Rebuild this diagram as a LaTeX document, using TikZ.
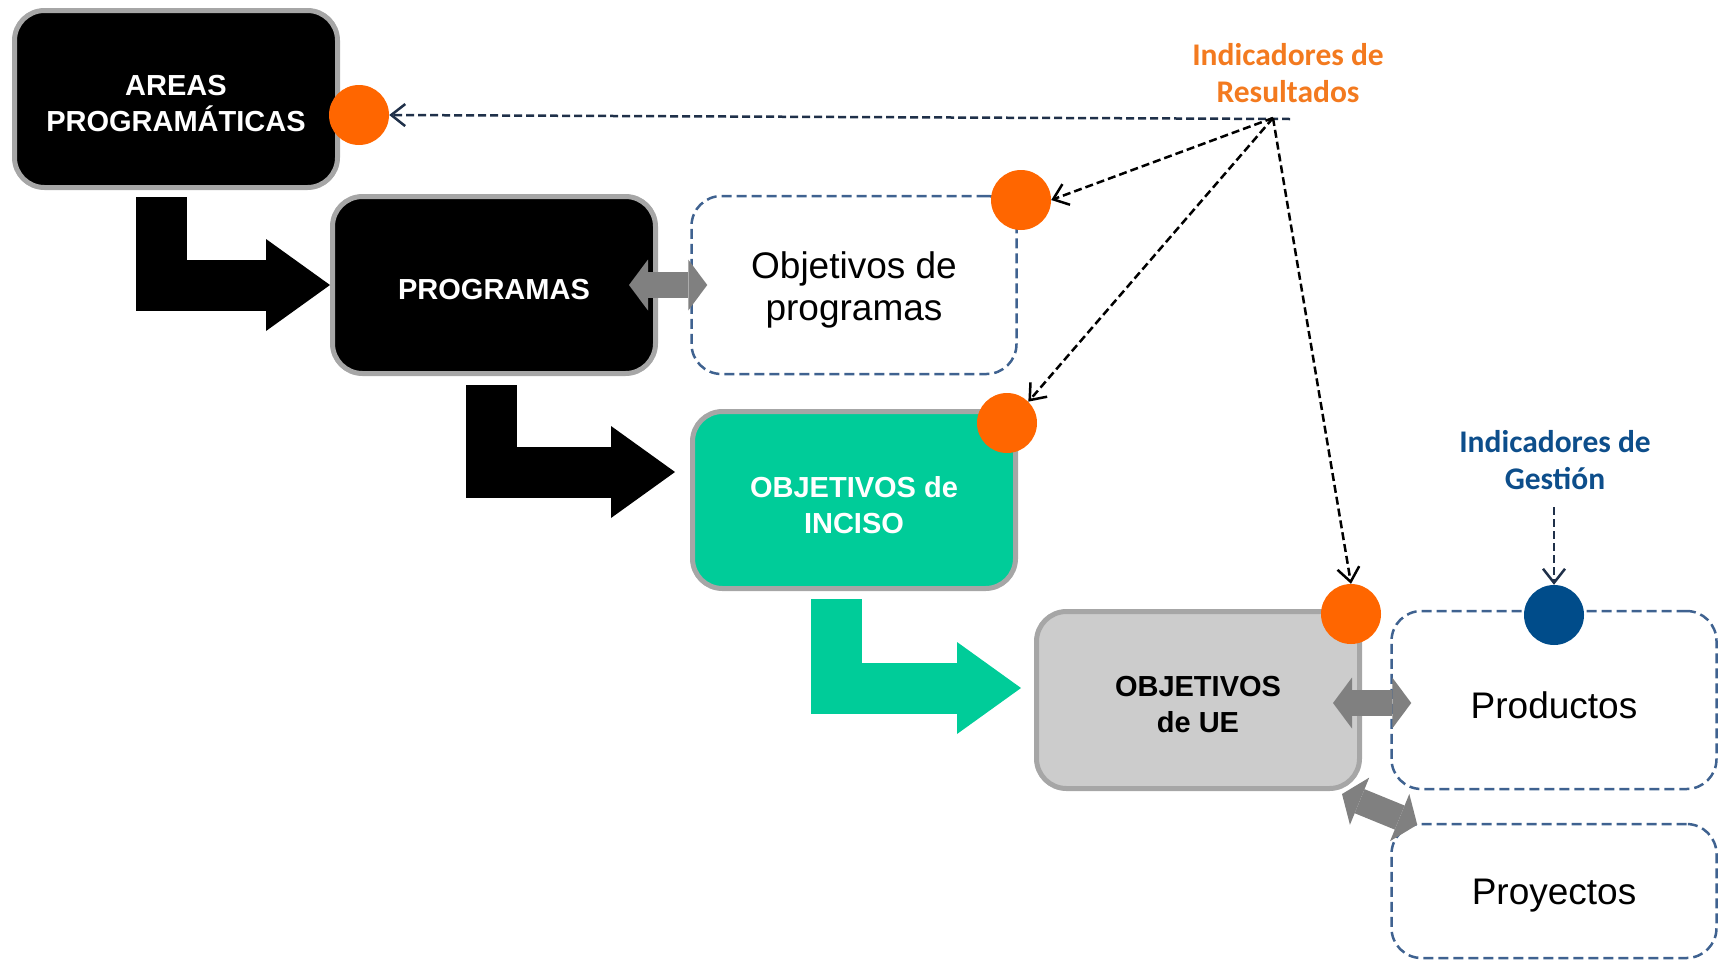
\documentclass[tikz,border=0pt]{standalone}
\usepackage{fontspec}
\setmainfont{Liberation Sans}
\newfontfamily\calibri{Carlito}
\usetikzlibrary{arrows.meta,calc}

\definecolor{naranja}{HTML}{FF6600}
\definecolor{verde}{HTML}{00CC99}
\definecolor{gris}{HTML}{A6A6A6}
\definecolor{grisclaro}{HTML}{CCCCCC}
\definecolor{grisflecha}{HTML}{808080}
\definecolor{azul}{HTML}{3F6290}
\definecolor{azulosc}{HTML}{004C8A}
\definecolor{naranjatxt}{HTML}{F37A1F}
\definecolor{azultxt}{HTML}{0D4E8B}
\definecolor{marino}{HTML}{1F3049}

\newcommand{\bajar}[1]{\raisebox{-5pt}[\height][\depth]{#1}}

\begin{document}
\begin{tikzpicture}[x=1pt,y=-1pt]
            \tikzstyle{every node}+=[inner sep=0pt]
            \tikzstyle{caja}=[rounded corners=30pt, draw=gris, line width=5pt, minimum width=323pt, minimum height=177pt, align=center, font=\bfseries\fontsize{29}{36}\selectfont]
            \tikzstyle{punteada}=[rounded corners=30pt, draw=azul, line width=2.5pt, dash pattern=on 10pt off 5pt, minimum width=325pt, minimum height=178pt, align=center, font=\fontsize{37}{42}\selectfont]
            \tikzstyle{punto}=[circle, fill=naranja, minimum size=60pt]
            \tikzstyle{flechaL}=[line width=51pt, -{Triangle[length=64pt,width=92pt,line width=0pt]}]
            \tikzstyle{doble}=[grisflecha, line width=26pt, {Triangle[length=19pt,width=51pt,line width=0pt]}-{Triangle[length=19pt,width=51pt,line width=0pt]}]
            \tikzstyle{indic}=[line width=2.5pt, dash pattern=on 8pt off 4pt, -{Straight Barb[length=14pt,width=22pt,line width=2.5pt]}]
            \tikzstyle{indtxt}=[align=center, font=\calibri\bfseries\fontsize{31.5}{37}\selectfont]
            \useasboundingbox (0,0) rectangle (1727,962);
            % cajas
            \node[caja, fill=black, text=white] (areas) at (176,99) {\bajar{AREAS}\\\bajar{PROGRAMÁTICAS}};
            \node[caja, fill=black, text=white] (prog) at (494,285) {\bajar{PROGRAMAS}};
            \node[punteada] (objprog) at (854,285) {\bajar{Objetivos de}\\\bajar{programas}};
            \node[caja, fill=verde, text=white] (inciso) at (854,500) {\bajar{OBJETIVOS de}\\\bajar{INCISO}};
            \node[caja, fill=grisclaro] (ue) at (1198,700) {\bajar{OBJETIVOS}\\\bajar{de UE}};
            \node[punteada] (prod) at (1554,700) {\bajar{Productos}};
            \node[punteada, minimum height=134pt] (proy) at (1554,891) {\bajar{Proyectos}};
            % flechas en L
            \draw[flechaL, black] (161,197) |- (prog.west);
            \draw[flechaL, black] (491,385) |- ($(inciso.west)+(-15,-28)$);
            \draw[flechaL, verde] (836,599) |- ($(ue.west)+(-13,-12)$);
            % flechas dobles
            \draw[doble] ($(prog.east)+(-29,0)$) -- ($(objprog.west)+(17,0)$);
            \draw[doble] ($(ue.east)+(-29,3)$) -- ($(prod.west)+(21,3)$);
            \draw[doble] ($(ue.south east)+(-20,3)$) -- ($(proy.north west)+(27,2)$);
            % puntos
            \node[punto] (pa) at (359,115) {};
            \node[punto] (pp) at (1021,200) {};
            \node[punto] (pi) at (1007,423) {};
            \node[punto] (pu) at (1351,614) {};
            \node[punto, fill=azulosc] (pg) at (1554,615) {};
            % indicadores
            \node[indtxt, text=naranjatxt] (indres) at (1288,73) {Indicadores de\\Resultados};
            \node[indtxt, text=azultxt] (indges) at (1555,460) {Indicadores de\\Gestión};
            \coordinate (res) at (1273,118);
            \coordinate (resfin) at (1290,119);
            \coordinate (ges) at (1554,507);
            \draw[indic, marino] (resfin) -- (pa.east);
            \draw[indic] (res) -- (pp.east);
            \draw[indic] (res) -- (pi.north east);
            \draw[indic] (res) -- (pu.north);
            \draw[indic, marino] (ges) -- (pg.north);
        \end{tikzpicture}
\end{document}
